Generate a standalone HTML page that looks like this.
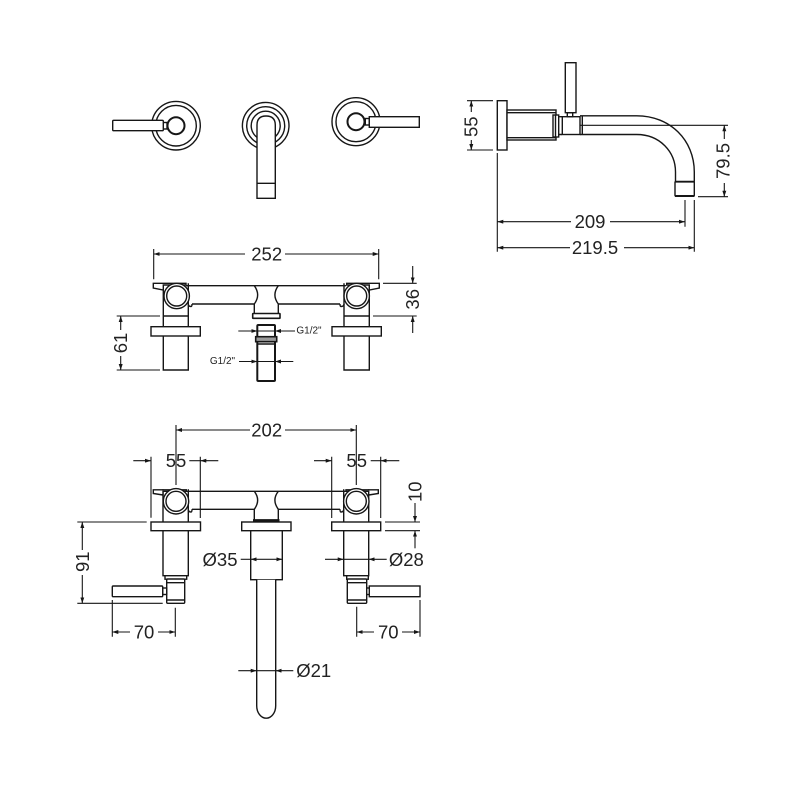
<!DOCTYPE html>
<html><head><meta charset="utf-8"><style>
html,body{margin:0;padding:0;background:#fff}
svg{display:block}
text{font-family:"Liberation Sans",sans-serif;font-size:18.5px;fill:#222;text-anchor:middle;dominant-baseline:central}
.s{font-size:10px}
.o{fill:#fff;stroke:#161616;stroke-width:1.4}
.n{fill:none;stroke:#161616;stroke-width:1.4}
.d{fill:none;stroke:#161616;stroke-width:1.1}
.a{fill:none;stroke:#161616;stroke-width:1.1;marker-end:url(#m)}
</style></head><body>
<svg width="800" height="800" viewBox="0 0 800 800" xmlns="http://www.w3.org/2000/svg">
<defs><marker id="m" viewBox="0 0 6 4" refX="6" refY="2" markerWidth="6" markerHeight="4" markerUnits="userSpaceOnUse" orient="auto"><path d="M0 0L6 2L0 4Z" fill="#161616"/></marker></defs>
<rect width="800" height="800" fill="#fff"/>

<!-- top view -->
<circle class="n" cx="176" cy="125.7" r="24.3"/><circle class="n" cx="176" cy="125.7" r="20.3"/>
<circle cx="176" cy="125.7" r="8.5" fill="#fff" stroke="#161616" stroke-width="2"/>
<rect class="o" x="163" y="122.5" width="4" height="6.5"/>
<rect class="o" x="112.7" y="120.3" width="50.6" height="10.4" rx="1"/>
<circle class="n" cx="265.7" cy="125.7" r="23.3"/><circle class="n" cx="265.7" cy="125.7" r="19"/><circle class="n" cx="265.7" cy="125.7" r="14.5"/>
<path class="o" d="M257 198.3V125Q257 116 266 116Q275.3 116 275.3 125V198.3Z"/>
<path class="n" d="M257 183.3H275.3"/>
<circle class="n" cx="356" cy="121.7" r="24"/><circle class="n" cx="356" cy="121.7" r="20"/>
<circle cx="356" cy="121.7" r="8.5" fill="#fff" stroke="#161616" stroke-width="2"/>
<rect class="o" x="365.3" y="118.5" width="4" height="6.5"/>
<rect class="o" x="369.3" y="116.7" width="50" height="10.6"/>

<!-- side view -->
<rect class="o" x="497.3" y="100.7" width="9.7" height="49.3"/>
<rect class="o" x="507" y="110" width="49" height="30"/>
<path class="n" d="M507 112.7H556M507 137.7H556"/>
<rect class="o" x="553" y="115" width="5.7" height="22"/><path class="n" d="M555.5 115V137"/>
<path class="n" d="M558.7 116.7H562M558.7 134.5H562"/>
<rect class="o" x="562.3" y="116.7" width="17.7" height="17.8"/>
<path class="n" d="M582.3 116V134.5"/>
<rect class="o" x="567.3" y="112.7" width="5.4" height="4"/>
<rect class="o" x="565.3" y="62.7" width="10.7" height="50"/>
<path class="n" d="M580 115.8H636.7C670 115.8 694.3 140 694.3 172V181.7M580 134.5H636.7C660 134.5 675.5 152 675.5 172V181.7"/>
<rect class="n" x="675" y="181.7" width="19.3" height="14.3" rx="0.5"/>
<path d="M675 196H694.3" stroke="#161616" stroke-width="2"/>
<path d="M675 181.7H694.3" stroke="#161616" stroke-width="1.8"/>
<!-- side dims -->
<path class="d" d="M467 100.7H493M467 150H493M580 125.3H728M698 196.7H728"/>
<path class="a" d="M471.3 112V100.7"/><path class="a" d="M471.3 140V150"/>
<text transform="translate(471 126.7) rotate(-90)">55</text>
<path class="a" d="M724.3 139V125.3"/><path class="a" d="M724.3 183V196.7"/>
<text transform="translate(723 161) rotate(-90)">79.5</text>
<path class="d" d="M497.3 153V251.7M685 200V226.7M694.3 200V251.7"/>
<path class="a" d="M571 221.7H497.3"/><path class="a" d="M610 221.7H685"/>
<text x="590" y="221.7">209</text>
<path class="a" d="M570 247.7H497.3"/><path class="a" d="M624 247.7H694.3"/>
<text x="595" y="247.7">219.5</text>

<!-- middle view -->
<path class="d" d="M153.7 249V279.3M378.7 249V279.3"/>
<path class="a" d="M245 254H153.7"/><path class="a" d="M285 254H378.7"/>
<text x="266.7" y="254">252</text>
<path class="n" d="M186 285.7H346M192 304H254.3M278.3 304H340"/>
<path class="n" d="M188.3 304Q188.3 306.5 191 306.5Q192 306.5 192 304M344 304Q344 306.5 341 306.5Q340 306.5 340 304"/>
<path class="n" d="M254.3 285.7Q261 295 254.3 304M278.3 285.7Q271.5 295 278.3 304M254.3 304V313.3M278.3 304V313.3"/>
<rect x="252.7" y="313.5" width="27.3" height="4.8" fill="#fff" stroke="#161616" stroke-width="1.6" rx="0.5"/>
<path class="n" d="M163.3 283.3V326.7M188.3 283.3V326.7M344 283.3V326.7M369.3 283.3V326.7"/>
<path class="n" d="M163.3 316H188.3M344 316H369.3"/>
<path class="n" d="M163.3 336V370H188.3V336M344 336V370H369.3V336"/>
<path class="o" d="M153.3 283.3H186V285H163.3V290L153.3 288Z"/>
<path class="o" d="M346.7 283.3H379.3V288L369.3 290V285H346.7Z"/>
<circle class="o" cx="176.7" cy="296" r="12.7"/><circle class="n" cx="176.7" cy="296" r="10"/>
<circle class="o" cx="356.7" cy="296" r="12.7"/><circle class="n" cx="356.7" cy="296" r="10"/>
<rect class="o" x="151" y="326.7" width="49.3" height="9.3"/>
<rect class="o" x="332" y="326.7" width="49.3" height="9.3"/>
<rect x="257.3" y="325" width="17.7" height="56" rx="1" fill="#fff" stroke="#161616" stroke-width="2"/>
<rect x="255.7" y="336.7" width="21" height="5" fill="#999" stroke="#161616" stroke-width="1.6"/>
<path class="n" d="M257.3 344H275"/>
<path class="a" d="M238.3 331H257.3"/><path class="a" d="M295 331H275"/><path class="d" d="M257.3 331H275"/>
<text class="s" x="309" y="331">G1/2"</text>
<path class="a" d="M239 361.5H257.3"/><path class="a" d="M293.3 361.5H275"/><path class="d" d="M257.3 361.5H275"/>
<text class="s" x="222.5" y="361.7">G1/2"</text>
<path class="d" d="M116.7 316H160M116.7 370H160M383 283.3H416.7M373 316H416.7"/>
<path class="a" d="M120.7 330V316"/><path class="a" d="M120.7 356V370"/>
<text transform="translate(120.7 343) rotate(-90)">61</text>
<path class="a" d="M412.7 266V283.3"/><path class="a" d="M412.7 333V316"/>
<text transform="translate(412.7 299.3) rotate(-90)">36</text>

<!-- bottom view -->
<path class="d" d="M176 425V485M356.3 425V485"/>
<path class="a" d="M250 430H176"/><path class="a" d="M285 430H356.3"/>
<text x="266.7" y="430">202</text>
<path class="d" d="M151 456.7V517.7M200.3 456.7V518M331.7 456.7V518M380.7 456.7V518"/>
<path class="a" d="M133.3 460.7H151"/><path class="a" d="M218.3 460.7H200.3"/><path class="d" d="M189.3 460.7H200.3"/>
<text x="176" y="460.7">55</text>
<path class="a" d="M314 460.7H331.7"/><path class="a" d="M399.3 460.7H380.7"/><path class="d" d="M370.7 460.7H380.7"/>
<text x="356.7" y="460.7">55</text>
<path class="n" d="M186 491.3H346M192 509.3H254.3M278.3 509.3H340"/>
<path class="n" d="M188.3 509.3Q188.3 512 191 512Q192 512 192 509.3M343.7 509.3Q343.7 512 341 512Q340 512 340 509.3"/>
<path class="n" d="M254.3 491.3Q261 500 254.3 509.3M278.3 491.3Q271.5 500 278.3 509.3M254.3 509.3V520M278.3 509.3V520"/>
<path d="M253 520.3H279.5" stroke="#161616" stroke-width="2.4"/>
<path class="n" d="M163 489.3V522M188.3 489.3V522M343.7 489.3V522M368.7 489.3V522"/>
<path class="o" d="M153.3 489.8H186.3V491.3H163V495L153.3 493.5Z"/>
<path class="o" d="M346 489.8H378.3V493.5L368.7 495V491.3H346Z"/>
<circle class="o" cx="176" cy="501.3" r="12.7"/><circle class="n" cx="176" cy="501.3" r="10"/>
<circle class="o" cx="356.3" cy="501.3" r="12.7"/><circle class="n" cx="356.3" cy="501.3" r="10"/>
<rect class="o" x="151" y="522" width="49.5" height="8.7"/>
<rect class="o" x="241.7" y="522" width="49.3" height="8.7"/>
<rect class="o" x="331.7" y="522" width="49" height="8.7"/>
<rect class="o" x="163" y="530.7" width="25.3" height="45"/>
<rect class="o" x="343.7" y="530.7" width="25" height="45"/>
<rect class="o" x="250.7" y="530.7" width="31.6" height="49"/>
<path class="o" d="M256.7 579.7V705.7A9.5 12.5 0 0 0 275.7 705.7V579.7"/>
<rect class="o" x="165" y="575.7" width="21.7" height="3.5"/>
<rect class="o" x="166.7" y="579" width="18" height="24.3" rx="1"/>
<path class="n" d="M166.7 582.7H184.7M166.7 600H184.7"/>
<rect class="o" x="346.7" y="575.7" width="21.6" height="3.5"/>
<rect class="o" x="347.3" y="579" width="19.4" height="24.3" rx="1"/>
<path class="n" d="M347.3 582.7H366.7M347.3 600H366.7"/>
<rect class="o" x="162.7" y="588" width="4" height="6.5"/>
<rect class="o" x="112.3" y="586" width="50.4" height="10.7" rx="1"/>
<rect class="o" x="366.7" y="588" width="3" height="6.5"/>
<rect class="o" x="369.3" y="586" width="50.7" height="10.7"/>
<path class="d" d="M77.3 522H146.7M77.3 603.3H162.7"/>
<path class="a" d="M82.3 550V522"/><path class="a" d="M82.3 575V603.3"/>
<text transform="translate(82.3 561.7) rotate(-90)">91</text>
<path class="d" d="M112.3 600V636.7M175.3 607.7V636.7M356.7 606.7V636.7M420 600V636.7"/>
<path class="a" d="M130 632H112.3"/><path class="a" d="M158 632H175.3"/>
<text x="144" y="632">70</text>
<path class="a" d="M374 632H356.7"/><path class="a" d="M402 632H420"/>
<text x="388.3" y="632">70</text>
<path class="d" d="M385 522H420M385 530.7H420"/>
<path class="a" d="M415 503V522"/><path class="a" d="M415 548.3V530.7"/>
<text transform="translate(415 491.7) rotate(-90)">10</text>
<path class="d" d="M240.7 559.3H250.7"/>
<path class="a" d="M266.5 559.3H250.7"/><path class="a" d="M266.5 559.3H282.3"/>
<text x="220" y="559.3">Ø35</text>
<path class="a" d="M325 559.3H343.7"/><path class="d" d="M343.7 559.3H368.7"/><path class="a" d="M386.7 559.3H368.7"/>
<text x="406.3" y="559.3">Ø28</text>
<path class="a" d="M238.3 670.7H256.7"/><path class="d" d="M256.7 670.7H275.7"/><path class="a" d="M293.3 670.7H275.7"/>
<text x="313.7" y="670.7">Ø21</text>
</svg>
</body></html>
